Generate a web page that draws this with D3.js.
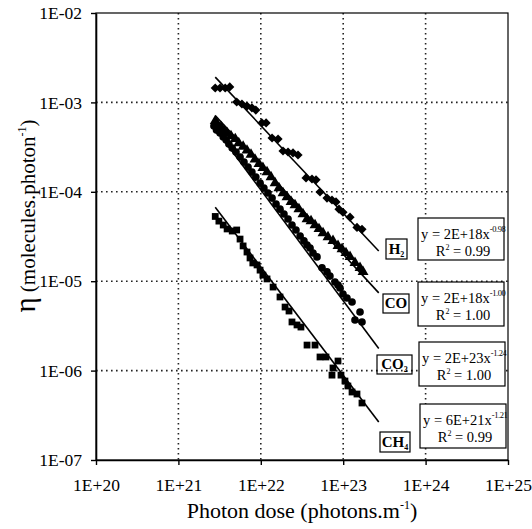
<!DOCTYPE html>
<html>
<head>
<meta charset="utf-8">
<script src="https://cdn.jsdelivr.net/npm/d3@7"></script>
<style>
  html, body { margin: 0; padding: 0; background: #fff; }
  svg { display: block; font-family: 'Liberation Serif', 'Times New Roman', 'DejaVu Serif', serif; }
</style>
</head>
<body>
<svg id="chart" width="532" height="529"></svg>
<script>
// Axis decades
const xTickValues = [1e20, 1e21, 1e22, 1e23, 1e24, 1e25];
const yTickValues = [1e-7, 1e-6, 1e-5, 1e-4, 1e-3, 1e-2];

// Measured yields (molecules per photon) against photon dose (photons per metre)
const h2Dose = [2.8e21, 3.2e21, 3.7e21, 4.2e21, 5.1e21, 5.9e21, 6.8e21, 7.8e21, 8.7e21, 1.03e22, 1.16e22, 1.37e22, 1.62e22, 1.86e22, 2.14e22, 2.46e22, 2.83e22, 3.54e22, 4.18e22, 4.68e22, 5.23e22, 6.36e22, 7.31e22, 8.18e22, 8.89e22, 9.94e22, 1.21e23, 1.47e23, 1.69e23];
const h2Yield = [1.45e-3, 1.45e-3, 1.45e-3, 1.49e-3, 1.01e-3, 9.6e-4, 9.1e-4, 8.7e-4, 8.2e-4, 5.9e-4, 5.9e-4, 4.0e-4, 3.9e-4, 2.86e-4, 2.79e-4, 2.72e-4, 2.58e-4, 1.43e-4, 1.39e-4, 1.36e-4, 9.95e-5, 8.5e-5, 8.1e-5, 7.7e-5, 6.4e-5, 5.9e-5, 5.2e-5, 4.0e-5, 3.8e-5];

const coDose = [2.8e21, 3.0e21, 3.3e21, 3.6e21, 3.9e21, 4.35e21, 4.9e21, 5.4e21, 6.1e21, 6.8e21, 7.6e21, 8.5e21, 9.5e21, 1.06e22, 1.19e22, 1.33e22, 1.49e22, 1.66e22, 1.86e22, 2.08e22, 2.33e22, 2.6e22, 2.9e22, 3.25e22, 3.64e22, 4.07e22, 4.55e22, 5.08e22, 5.69e22, 6.54e22, 7.52e22, 8.65e22, 9.67e22, 1.08e23, 1.21e23, 1.39e23, 1.6e23, 1.74e23];
const coYield = [6.2e-4, 5.6e-4, 5.3e-4, 4.8e-4, 4.55e-4, 4.2e-4, 3.9e-4, 3.5e-4, 3.2e-4, 2.9e-4, 2.6e-4, 2.3e-4, 2.05e-4, 1.85e-4, 1.66e-4, 1.46e-4, 1.25e-4, 1.1e-4, 9.7e-5, 8.75e-5, 7.7e-5, 7.1e-5, 6.4e-5, 5.65e-5, 4.96e-5, 4.7e-5, 4.25e-5, 3.84e-5, 3.46e-5, 3.12e-5, 2.82e-5, 2.48e-5, 2.29e-5, 2.07e-5, 1.87e-5, 1.6e-5, 1.41e-5, 1.27e-5];

const co2Dose = [2.7e21, 2.9e21, 3.2e21, 3.5e21, 3.8e21, 4.1e21, 4.5e21, 5.0e21, 5.6e21, 6.25e21, 7.0e21, 7.8e21, 8.7e21, 9.8e21, 1.09e22, 1.22e22, 1.37e22, 1.53e22, 1.71e22, 1.91e22, 2.14e22, 2.39e22, 2.67e22, 3.0e22, 3.34e22, 3.64e22, 3.96e22, 4.3e22, 4.81e22, 5.53e22, 6.36e22, 6.9e22, 7.95e22, 8.65e22, 9.15e22, 9.94e22, 1.11e23, 1.28e23, 1.39e23, 1.6e23, 1.69e23];
const co2Yield = [5.45e-4, 4.9e-4, 4.55e-4, 4.1e-4, 3.8e-4, 3.42e-4, 3.09e-4, 2.79e-4, 2.45e-4, 2.15e-4, 1.89e-4, 1.66e-4, 1.46e-4, 1.25e-4, 1.1e-4, 9.7e-5, 8.5e-5, 7.3e-5, 6.4e-5, 5.65e-5, 4.96e-5, 4.25e-5, 3.74e-5, 3.2e-5, 2.82e-5, 2.54e-5, 2.35e-5, 2.07e-5, 1.87e-5, 1.41e-5, 1.27e-5, 1.14e-5, 9.8e-6, 9.07e-6, 8.39e-6, 7.19e-6, 6.49e-6, 5.85e-6, 3.68e-6, 4.52e-6, 3.5e-6];

const ch4Dose = [2.8e21, 3.1e21, 3.5e21, 3.9e21, 4.5e21, 5.1e21, 5.6e21, 6.1e21, 6.8e21, 7.4e21, 8.0e21, 9.0e21, 9.8e21, 1.06e22, 1.19e22, 1.41e22, 1.71e22, 1.97e22, 2.2e22, 2.39e22, 2.75e22, 3.07e22, 3.64e22, 4.55e22, 5.23e22, 6.18e22, 7.31e22, 7.52e22, 8.65e22, 9.4e22, 1.05e23, 1.14e23, 1.28e23, 1.47e23, 1.69e23];
const ch4Yield = [5.3e-5, 4.7e-5, 4.25e-5, 3.84e-5, 3.64e-5, 3.74e-5, 2.96e-5, 2.48e-5, 2.12e-5, 1.82e-5, 1.6e-5, 1.52e-5, 1.33e-5, 1.17e-5, 1.06e-5, 8.6e-6, 6.66e-6, 5.14e-6, 4.64e-6, 3.5e-6, 3.24e-6, 3.07e-6, 1.93e-6, 1.93e-6, 1.42e-6, 1.42e-6, 8.9e-7, 1.07e-6, 1.28e-6, 8.9e-7, 7.65e-7, 6.73e-7, 5.76e-7, 5.47e-7, 4.34e-7];

// Power-law fits y = a * x^b
const gasNames = ["H2", "CO", "CO2", "CH4"];
const fitCoef = [2e18, 2e18, 2e23, 6e21];
const fitExp = [-0.98, -1.00, -1.24, -1.21];
const fitR2 = [0.99, 1.00, 1.00, 0.99];
const fitDoseRange = [2.8e21, 2.7e23];

// ---------------------------------------------------------------
const plot = { left: 96, right: 508, top: 13, bottom: 460 };
const serif = "Liberation Serif";

const x = d3.scaleLog().domain([1e20, 1e25]).range([plot.left, plot.right]);
const y = d3.scaleLog().domain([1e-7, 1e-2]).range([plot.bottom, plot.top]);

const svg = d3.select("#chart");

// dotted grid at every inner decade
const grid = svg.append("g")
  .attr("stroke", "#222")
  .attr("stroke-width", 1.6)
  .attr("stroke-dasharray", "1.6,3.4");
grid.selectAll("line.vg").data(xTickValues.slice(1, -1)).join("line")
  .attr("class", "vg")
  .attr("x1", d => x(d)).attr("x2", d => x(d))
  .attr("y1", plot.top).attr("y2", plot.bottom);
grid.selectAll("line.hg").data(yTickValues.slice(1, -1)).join("line")
  .attr("class", "hg")
  .attr("x1", plot.left).attr("x2", plot.right)
  .attr("y1", d => y(d)).attr("y2", d => y(d));

// plot frame
svg.append("rect")
  .attr("x", plot.left).attr("y", plot.top)
  .attr("width", plot.right - plot.left).attr("height", plot.bottom - plot.top)
  .attr("fill", "none").attr("stroke", "#000").attr("stroke-width", 1.2);

// fitted lines
const fitLine = d3.line().x(d => x(d[0])).y(d => y(d[1]));
gasNames.forEach((g, i) => {
  const pts = fitDoseRange.map(d => [d, fitCoef[i] * Math.pow(d, fitExp[i])]);
  svg.append("path")
    .attr("d", fitLine(pts))
    .attr("fill", "none")
    .attr("stroke", "#000")
    .attr("stroke-width", 1.6);
});

// measured points
const series = [
  { dose: h2Dose, yld: h2Yield, symbol: d3.symbolSquare, size: 42, rot: 45 },
  { dose: coDose, yld: coYield, symbol: d3.symbolTriangle, size: 52, rot: 0 },
  { dose: co2Dose, yld: co2Yield, symbol: d3.symbolCircle, size: 46, rot: 0 },
  { dose: ch4Dose, yld: ch4Yield, symbol: d3.symbolSquare, size: 46, rot: 0 }
];
series.forEach(s => {
  const path = d3.symbol().type(s.symbol).size(s.size)();
  svg.append("g").selectAll("path")
    .data(s.dose.map((d, i) => [d, s.yld[i]]))
    .join("path")
    .attr("d", path)
    .attr("transform", d => `translate(${x(d[0])},${y(d[1])}) rotate(${s.rot})`)
    .attr("fill", "#000");
});

// gas name tags at the end of each fit line
const tagBoxes = [
  { x: 386, y: 239, w: 21, h: 20 },
  { x: 383, y: 294, w: 26, h: 19 },
  { x: 377, y: 355, w: 35, h: 19 },
  { x: 380, y: 432, w: 30, h: 20 }
];
const tagParts = [["H", "2"], ["CO", ""], ["CO", "2"], ["CH", "4"]];
tagBoxes.forEach((b, i) => {
  const g = svg.append("g").attr("transform", `translate(${b.x},${b.y})`);
  g.append("rect").attr("width", b.w).attr("height", b.h)
    .attr("fill", "none").attr("stroke", "#000").attr("stroke-width", 1.2);
  const t = g.append("text")
    .attr("x", b.w / 2).attr("y", b.h - 5)
    .attr("text-anchor", "middle")
    .attr("font-family", serif).attr("font-weight", "bold").attr("font-size", 15);
  t.append("tspan").text(tagParts[i][0]);
  if (tagParts[i][1]) t.append("tspan").attr("dy", 3).attr("font-size", 8).text(tagParts[i][1]);
});

// fit equation boxes
const eqBoxes = [
  { x: 418, y: 218, w: 86, h: 42 },
  { x: 418, y: 282, w: 86, h: 44 },
  { x: 419, y: 342, w: 86, h: 44 },
  { x: 420, y: 404, w: 86, h: 44 }
];
const coefText = v => v.toExponential(0).replace("e", "E");
eqBoxes.forEach((b, i) => {
  const g = svg.append("g").attr("transform", `translate(${b.x},${b.y})`);
  g.append("rect").attr("width", b.w).attr("height", b.h)
    .attr("fill", "#fff").attr("stroke", "#000").attr("stroke-width", 1.2);
  const t1 = g.append("text").attr("x", 3).attr("y", 21)
    .attr("font-family", serif).attr("font-size", 14.5);
  t1.append("tspan").text(`y = ${coefText(fitCoef[i])}x`);
  t1.append("tspan").attr("dy", -7).attr("font-size", 8.5).attr("letter-spacing", -0.4)
    .text(fitExp[i].toFixed(2));
  const t2 = g.append("text").attr("x", b.w / 2 + 2).attr("y", 38)
    .attr("text-anchor", "middle")
    .attr("font-family", serif).attr("font-size", 14.5);
  t2.append("tspan").text("R");
  t2.append("tspan").attr("dy", -6).attr("font-size", 8).text("2");
  t2.append("tspan").attr("dy", 6).text(` = ${fitR2[i].toFixed(2)}`);
});

// axes
const fmt = d => {
  const e = Math.round(Math.log10(d));
  return "1E" + (e < 0 ? "-" : "+") + String(Math.abs(e)).padStart(2, "0");
};
const styleAxis = g => {
  g.attr("font-family", serif).attr("font-size", 17.5);
  g.select(".domain").attr("stroke-width", 1.6);
  g.selectAll(".tick line").attr("stroke-width", 1.4);
  g.selectAll(".tick text").attr("fill", "#000").attr("font-family", serif);
};
svg.append("g")
  .attr("transform", `translate(0,${plot.bottom})`)
  .call(d3.axisBottom(x).tickValues(xTickValues).tickFormat(fmt).tickSize(5).tickSizeOuter(0).tickPadding(14))
  .call(styleAxis);
svg.append("g")
  .attr("transform", `translate(${plot.left},0)`)
  .call(d3.axisLeft(y).tickValues(yTickValues).tickFormat(fmt).tickSize(5).tickSizeOuter(0).tickPadding(9))
  .call(styleAxis);

// axis titles
const xt = svg.append("text")
  .attr("x", (plot.left + plot.right) / 2).attr("y", 518)
  .attr("text-anchor", "middle")
  .attr("font-family", serif).attr("font-size", 22);
xt.append("tspan").text("Photon dose (photons.m");
xt.append("tspan").attr("dy", -9).attr("font-size", 12).text("-1");
xt.append("tspan").attr("dy", 9).text(")");

const yt = svg.append("text")
  .attr("transform", "translate(35,216) rotate(-90)")
  .attr("text-anchor", "middle")
  .attr("font-family", serif).attr("font-size", 21);
yt.append("tspan").attr("font-size", 29).text("η");
yt.append("tspan").text(" (molecules.photon");
yt.append("tspan").attr("dy", -9).attr("font-size", 12).text("-1");
yt.append("tspan").attr("dy", 9).text(")");
</script>
</body>
</html>
